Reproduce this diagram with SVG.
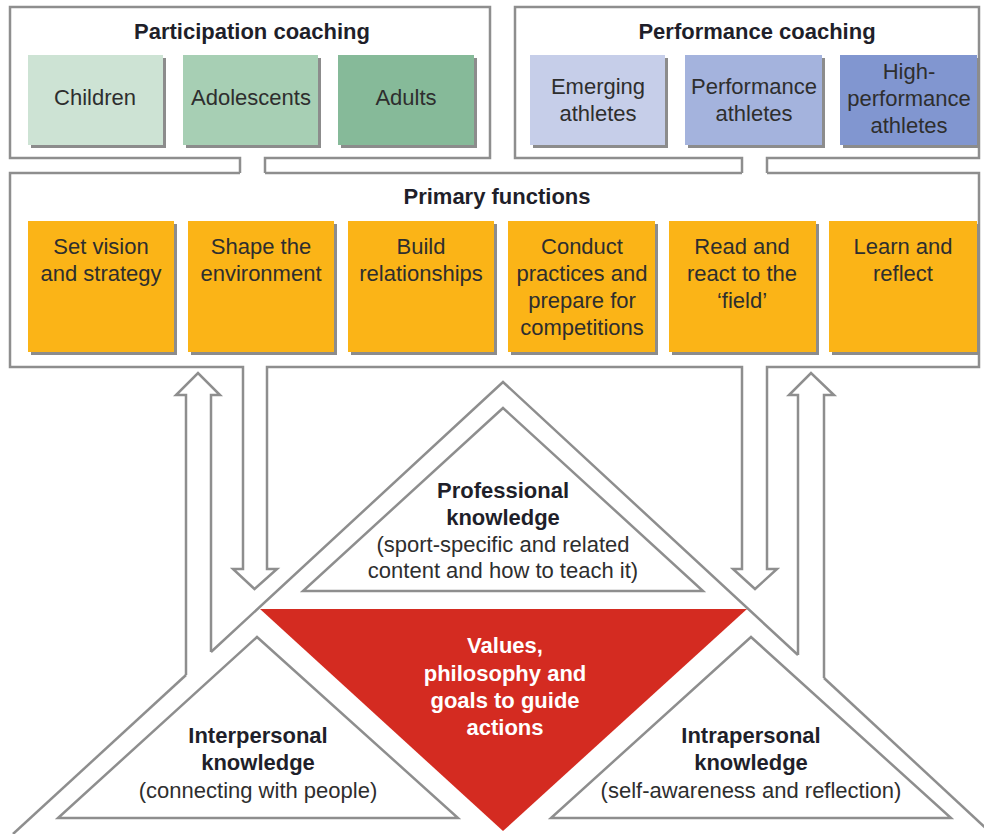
<svg xmlns="http://www.w3.org/2000/svg" width="984" height="834" viewBox="0 0 984 834">
<defs>
<style>
.ln{fill:none;stroke:#8e8e8e;stroke-width:2.5;stroke-linejoin:miter}
.tri{fill:#fff;stroke:#8e8e8e;stroke-width:2.5}
.sh{fill:#8c8c8c}
.t{font-family:"Liberation Sans",Arial,sans-serif;font-size:22px;fill:#2e2e2e;text-anchor:middle}
.b{font-weight:bold;fill:#1f1f2a}
.w{font-weight:bold;fill:#fff}
.or{fill:#fbb417}
</style>
</defs>
<rect width="984" height="834" fill="#fff"/>
<g id="connectors">
<path class="ln" d="M240,173 V158 H10 V7 H490 V158 H265 V173"/>
<path class="ln" d="M742,173 V158 H515 V7 H979 V158 H767 V173"/>
<path class="ln" d="M265,173 H742"/>
<path class="ln" d="M240,173 H10 V367 H243 V569 H233 L254.5,589 L277,569 H267 V367 H742 V569 H733 L755,589 L777,569 H767 V367 H979 V173 H767"/>
<path class="ln" d="M186,675 V395 H176 L198,373 L220,395 H211 V652"/>
<path class="ln" d="M798,655 V395 H789 L811,373 L834,395 H824 V678"/>
<path class="ln" d="M211,652 L503,382 L798,655"/>
<path class="ln" d="M186,675 L13,834"/>
<path class="ln" d="M824,678 L990,832"/>
</g>
<g id="participation-coaching">
<text class="t b" x="252" y="39">Participation coaching</text>
</g>
<g id="children">
<rect class="sh" x="31" y="58" width="135" height="90"/>
<rect x="28" y="55" width="135" height="90" fill="#cde3d4"/>
<text class="t" x="95" y="105">Children</text>
</g>
<g id="adolescents">
<rect class="sh" x="186" y="58" width="135" height="90"/>
<rect x="183" y="55" width="135" height="90" fill="#a7cfb4"/>
<text class="t" x="251" y="105">Adolescents</text>
</g>
<g id="adults">
<rect class="sh" x="341" y="58" width="136" height="90"/>
<rect x="338" y="55" width="136" height="90" fill="#86ba99"/>
<text class="t" x="406" y="105">Adults</text>
</g>
<g id="performance-coaching">
<text class="t b" x="757" y="39">Performance coaching</text>
</g>
<g id="emerging">
<rect class="sh" x="533" y="58" width="135" height="90"/>
<rect x="530" y="55" width="135" height="90" fill="#c6cee9"/>
<text class="t" x="598" y="94">Emerging</text>
<text class="t" x="598" y="121">athletes</text>
</g>
<g id="performance">
<rect class="sh" x="688" y="58" width="137" height="90"/>
<rect x="685" y="55" width="137" height="90" fill="#a4b3dd"/>
<text class="t" x="754" y="94">Performance</text>
<text class="t" x="754" y="121">athletes</text>
</g>
<g id="high-performance">
<rect class="sh" x="843" y="58" width="137" height="90"/>
<rect x="840" y="55" width="137" height="90" fill="#8196d0"/>
<text class="t" x="909" y="79">High-</text>
<text class="t" x="909" y="106">performance</text>
<text class="t" x="909" y="133">athletes</text>
</g>
<g id="primary-functions">
<text class="t b" x="497" y="204">Primary functions</text>
</g>
<g id="f1">
<rect class="sh" x="31" y="224" width="146" height="131"/>
<rect class="or" x="28" y="221" width="146" height="131"/>
<text class="t" x="101" y="254">Set vision</text>
<text class="t" x="101" y="281">and strategy</text>
</g>
<g id="f2">
<rect class="sh" x="191" y="224" width="146" height="131"/>
<rect class="or" x="188" y="221" width="146" height="131"/>
<text class="t" x="261" y="254">Shape the</text>
<text class="t" x="261" y="281">environment</text>
</g>
<g id="f3">
<rect class="sh" x="351" y="224" width="146" height="131"/>
<rect class="or" x="348" y="221" width="146" height="131"/>
<text class="t" x="421" y="254">Build</text>
<text class="t" x="421" y="281">relationships</text>
</g>
<g id="f4">
<rect class="sh" x="511" y="224" width="147" height="131"/>
<rect class="or" x="508" y="221" width="147" height="131"/>
<text class="t" x="582" y="254">Conduct</text>
<text class="t" x="582" y="281">practices and</text>
<text class="t" x="582" y="308">prepare for</text>
<text class="t" x="582" y="335">competitions</text>
</g>
<g id="f5">
<rect class="sh" x="672" y="224" width="147" height="131"/>
<rect class="or" x="669" y="221" width="147" height="131"/>
<text class="t" x="742" y="254">Read and</text>
<text class="t" x="742" y="281">react to the</text>
<text class="t" x="742" y="308">‘field’</text>
</g>
<g id="f6">
<rect class="sh" x="832" y="224" width="148" height="131"/>
<rect class="or" x="829" y="221" width="148" height="131"/>
<text class="t" x="903" y="254">Learn and</text>
<text class="t" x="903" y="281">reflect</text>
</g>
<g id="professional">
<polygon class="tri" points="303,591 703,591 503,408"/>
<text class="t b" x="503" y="498">Professional</text>
<text class="t b" x="503" y="525">knowledge</text>
<text class="t" x="503" y="552">(sport-specific and related</text>
<text class="t" x="503" y="578">content and how to teach it)</text>
</g>
<g id="values">
<polygon points="260,609 747,609 503,831" fill="#d42b21"/>
<text class="t w" x="505" y="653">Values,</text>
<text class="t w" x="505" y="681">philosophy and</text>
<text class="t w" x="505" y="708">goals to guide</text>
<text class="t w" x="505" y="735">actions</text>
</g>
<g id="interpersonal">
<polygon class="tri" points="58,818 458,818 257,637"/>
<text class="t b" x="258" y="743">Interpersonal</text>
<text class="t b" x="258" y="770">knowledge</text>
<text class="t" x="258" y="798">(connecting with people)</text>
</g>
<g id="intrapersonal">
<polygon class="tri" points="551,818 951,818 751,637"/>
<text class="t b" x="751" y="743">Intrapersonal</text>
<text class="t b" x="751" y="770">knowledge</text>
<text class="t" x="751" y="798">(self-awareness and reflection)</text>
</g>
</svg>
